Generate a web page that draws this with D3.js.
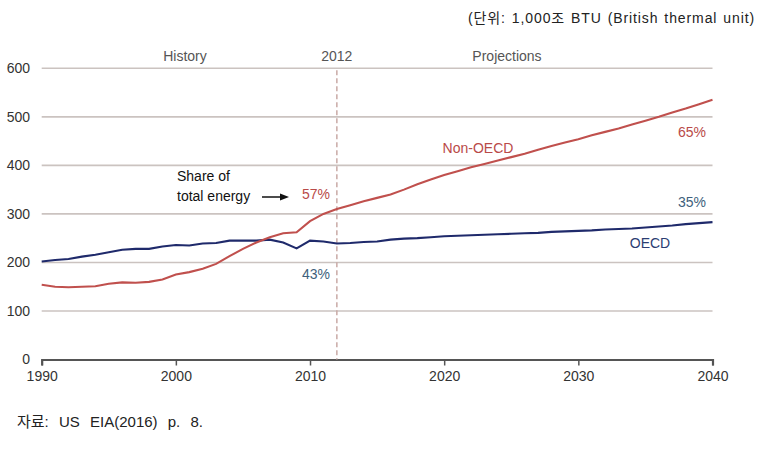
<!DOCTYPE html>
<html><head><meta charset="utf-8">
<script src="https://cdn.jsdelivr.net/npm/d3@7"></script>
<style>body{margin:0;background:#fff}svg{display:block}</style>
</head><body>
<svg id="c" width="777" height="450"></svg>
<script>
const years = d3.range(1990, 2041);
const nonOecd = [154,150,149,150,151,156,159,158,160,165,175,180,187,197,213,228,241,252,260,262,285,300,310,
  318,326,333,340,350,361,371,380,388,396,403,410,417,424,432,440,447,454,462,469,476,484,492,500,509,517,526,535];
const oecd = [202,205,207,212,216,221,226,228,228,233,236,235,239,240,245,245,245,247,241,229,245,243,239,
  240,242,243,247,249,250,252,254,255,256,257,258,259,260,261,263,264,265,266,268,269,270,272,274,276,279,281,283];
const yTicks = [0,100,200,300,400,500,600];
const xTicks = [1990,2000,2010,2020,2030,2040];
const splitYear = 2012;
const periodLabels = ["History","2012","Projections"];
const unitText = "(단위: 1,000조 BTU (British thermal unit)";
const sourceText = "자료: US EIA(2016) p. 8.";

const svg = d3.select("#c");
const x = d3.scaleLinear().domain([1990,2040]).range([41.7,712.5]);
const y = d3.scaleLinear().domain([0,600]).range([359.5,68.3]);
const font = "'Liberation Sans', Arial, sans-serif";

// gridlines
svg.append("g").selectAll("line").data(yTicks.filter(d=>d>0)).join("line")
  .attr("x1",x(1990)).attr("x2",x(2040)).attr("y1",d=>y(d)).attr("y2",d=>y(d))
  .attr("stroke","#cbc3c0").attr("stroke-width",1.6);

// y labels
svg.append("g").selectAll("text").data(yTicks).join("text")
  .attr("x",30).attr("y",d=>y(d)).attr("dy","0.35em").attr("text-anchor","end")
  .attr("font-family",font).attr("font-size",14).attr("fill","#333").text(d=>d);

// x axis
const xa = svg.append("g").attr("transform",`translate(0,${y(0)})`)
  .call(d3.axisBottom(x).tickValues(xTicks).tickFormat(d3.format("d")).tickSize(6).tickPadding(6));
xa.select(".domain").attr("stroke","#555").attr("stroke-width",2.2);
xa.selectAll(".tick line").attr("stroke","#555").attr("stroke-width",1.5);
xa.selectAll(".tick text").attr("font-family",font).attr("font-size",14).attr("fill","#333");

// dashed 2012 line
svg.append("line").attr("x1",x(splitYear)).attr("x2",x(splitYear)).attr("y1",y(600)+2).attr("y2",y(0))
  .attr("stroke","#c9aaa6").attr("stroke-width",1.5).attr("stroke-dasharray","5,3");

// period labels
const pl = [{t:periodLabels[0],x:185},{t:periodLabels[1],x:x(splitYear)},{t:periodLabels[2],x:507}];
svg.append("g").selectAll("text").data(pl).join("text")
  .attr("x",d=>d.x).attr("y",61).attr("text-anchor","middle")
  .attr("font-family",font).attr("font-size",14).attr("fill","#555").text(d=>d.t);

// lines
const line = vals => d3.line().x((d,i)=>x(years[i])).y(d=>y(d))(vals);
svg.append("path").attr("d",line(oecd)).attr("fill","none").attr("stroke","#1f2a6b").attr("stroke-width",2.1);
svg.append("path").attr("d",line(nonOecd)).attr("fill","none").attr("stroke","#c0504d").attr("stroke-width",2.1);

// annotations
const red = "#b94a48", steel = "#3e5f7c", navy = "#2b3d72";
const ann = [
  {t:"Non-OECD",x:478,y:153,c:red,a:"middle"},
  {t:"65%",x:706,y:137,c:red,a:"end"},
  {t:"35%",x:706,y:207,c:steel,a:"end"},
  {t:"OECD",x:650,y:248,c:navy,a:"middle"},
  {t:"57%",x:330,y:199,c:red,a:"end"},
  {t:"43%",x:330,y:279,c:steel,a:"end"},
  {t:"Share of",x:177,y:181,c:"#111",a:"start"},
  {t:"total energy",x:177,y:201,c:"#111",a:"start"}
];
svg.append("g").selectAll("text").data(ann).join("text")
  .attr("x",d=>d.x).attr("y",d=>d.y).attr("text-anchor",d=>d.a)
  .attr("font-family",font).attr("font-size",14).attr("fill",d=>d.c).text(d=>d.t);

// arrow
svg.append("line").attr("x1",262).attr("x2",281).attr("y1",197).attr("y2",197).attr("stroke","#111").attr("stroke-width",1.5);
svg.append("path").attr("d","M289,197 L280,193.5 L280,200.5 Z").attr("fill","#111");

// header / footer: fit width by widening word gaps
const kfont = "'Liberation Sans', Arial, 'Noto Sans CJK KR', sans-serif";
function fitText(t, x0, yb, size, target, ls){
  const el = svg.append("text").attr("x",x0).attr("y",yb).attr("font-family",kfont)
    .attr("font-size",size).attr("fill","#222").attr("letter-spacing",ls).text(t);
  const w = el.node().getComputedTextLength();
  const n = (t.match(/ /g)||[]).length;
  if (n>0 && target>w) el.attr("word-spacing",(target-w)/n);
  return el;
}
fitText(unitText, 468, 23, 14, 287, 0.9);
fitText(sourceText, 17, 427, 15, 186, 0);
</script>
</body></html>
